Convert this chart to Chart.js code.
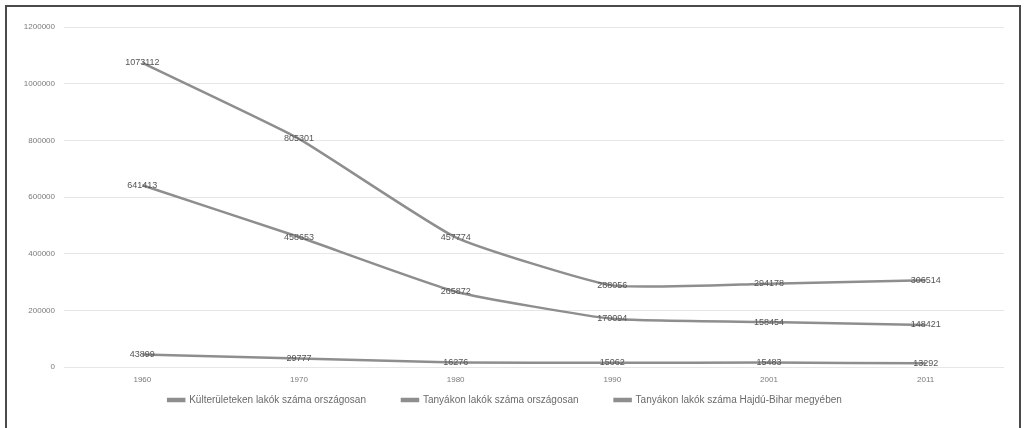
<!DOCTYPE html>
<html>
<head>
<meta charset="utf-8">
<script src="https://cdn.jsdelivr.net/npm/chart.js@4"></script>
<style>
  html, body { margin: 0; padding: 0; background: #fff; }
  #wrap { width: 1024px; height: 428px; }
</style>
</head>
<body>
<div id="wrap"><canvas id="c" width="1024" height="428"></canvas></div>
<script>
// Census years
const years = ['1960', '1970', '1980', '1990', '2001', '2011'];

// Residents of outskirts, nationwide
const kulteruletOrszagos = [1073112, 805301, 457774, 288056, 294178, 306514];
// Residents of farmsteads (tanyák), nationwide
const tanyaOrszagos = [641413, 458653, 265872, 170094, 158454, 148421];
// Residents of farmsteads in Hajdú-Bihar county
const tanyaHajduBihar = [43899, 29777, 16276, 15062, 15483, 13292];

const seriesNames = [
  'Külterületeken lakók száma országosan',
  'Tanyákon lakók száma országosan',
  'Tanyákon lakók száma Hajdú-Bihar megyében'
];

const yTicks = [0, 200000, 400000, 600000, 800000, 1000000, 1200000];

const FONT = '"Liberation Sans", Arial, sans-serif';
const LINE = '#8e8e8e';

// Writes each value centred on its point
const valueLabels = {
  id: 'valueLabels',
  afterDatasetsDraw(chart) {
    const ctx = chart.ctx;
    ctx.save();
    ctx.font = '9px ' + FONT;
    ctx.fillStyle = '#555555';
    ctx.textAlign = 'center';
    ctx.textBaseline = 'middle';
    chart.data.datasets.forEach((ds, i) => {
      const meta = chart.getDatasetMeta(i);
      meta.data.forEach((pt, j) => {
        ctx.fillText(String(ds.data[j]), pt.x, pt.y);
      });
    });
    ctx.restore();
  }
};

// Pulls the legend row up closer to the axis labels
// (its label padding also sets the wide gaps between entries)
const legendLift = {
  id: 'legendLift',
  afterLayout(chart) {
    const lg = chart.legend;
    if (lg) { lg.top -= 28; lg.bottom -= 28; }
  }
};

// Outer frame around the chart
const frame = {
  id: 'frame',
  afterDraw(chart) {
    const ctx = chart.ctx;
    ctx.save();
    ctx.strokeStyle = '#4a4a4a';
    ctx.lineWidth = 2;
    ctx.beginPath();
    ctx.moveTo(6, 440);
    ctx.lineTo(6, 6);
    ctx.lineTo(1020, 6);
    ctx.lineTo(1020, 440);
    ctx.stroke();
    ctx.restore();
  }
};

const mkSet = (label, data) => ({
  label,
  data,
  borderColor: LINE,
  backgroundColor: LINE,
  borderWidth: 2.5,
  pointRadius: 0,
  pointHoverRadius: 0,
  tension: 0.15,
  fill: false
});

new Chart(document.getElementById('c'), {
  type: 'line',
  data: {
    labels: years,
    datasets: [
      mkSet(seriesNames[0], kulteruletOrszagos),
      mkSet(seriesNames[1], tanyaOrszagos),
      mkSet(seriesNames[2], tanyaHajduBihar)
    ]
  },
  options: {
    responsive: false,
    animation: false,
    events: [],
    layout: { padding: { left: 6, right: 20, top: 27, bottom: -15 } },
    scales: {
      x: {
        offset: true,
        afterFit(scale) { scale.height = 20; },
        grid: { display: false, drawTicks: false },
        border: { display: false },
        ticks: { color: '#7a7a7a', font: { family: FONT, size: 8 }, padding: 8 }
      },
      y: {
        min: 0,
        max: 1200000,
        afterBuildTicks(scale) { scale.ticks = yTicks.map(v => ({ value: v })); },
        afterFit(scale) { scale.width = 58; },
        grid: { color: '#e6e6e6', lineWidth: 1, drawTicks: false },
        border: { display: false },
        ticks: {
          color: '#7a7a7a',
          font: { family: FONT, size: 8 },
          padding: 9,
          callback: v => String(v)
        }
      }
    },
    plugins: {
      legend: {
        position: 'bottom',
        labels: {
          color: '#6a6a6a',
          font: { family: FONT, size: 10 },
          boxWidth: 16,
          boxHeight: 2,
          padding: 36
        }
      },
      tooltip: { enabled: false }
    }
  },
  plugins: [valueLabels, legendLift, frame]
});
</script>
</body>
</html>
